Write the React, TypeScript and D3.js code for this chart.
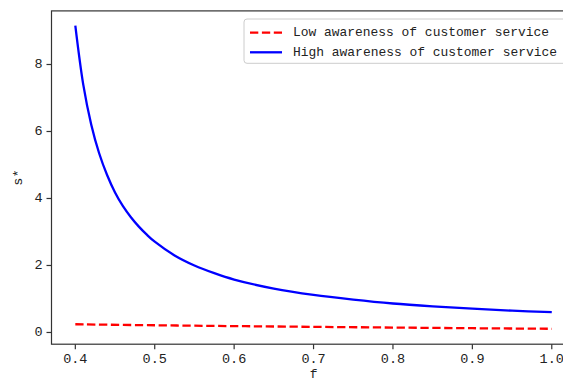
import * as d3 from 'd3';

const fHigh = [0.4, 0.41, 0.42, 0.43, 0.44, 0.45, 0.46, 0.47, 0.48, 0.49, 0.5, 0.525, 0.55, 0.575, 0.6, 0.65, 0.7, 0.75, 0.8, 0.85, 0.9, 0.95, 1.0];
const sHigh = [9.16, 7.4, 6.21, 5.35, 4.7, 4.18, 3.77, 3.44, 3.16, 2.92, 2.71, 2.3, 2.0, 1.77, 1.58, 1.31, 1.12, 0.98, 0.865, 0.78, 0.71, 0.65, 0.605];

const fLow = [0.4, 0.5, 0.6, 0.7, 0.8, 0.9, 1.0];
const sLow = [0.245, 0.215, 0.19, 0.168, 0.147, 0.127, 0.11];

const xTicks = [0.4, 0.5, 0.6, 0.7, 0.8, 0.9, 1.0];
const yTicks = [0, 2, 4, 6, 8];

const seriesLabels = ['Low awareness of customer service', 'High awareness of customer service'];

const W = 563;
const H = 381;
const FONT = '"Liberation Mono", "DejaVu Sans Mono", monospace';

export default function App() {
  const x = d3.scaleLinear().domain([0.37, 1.03]).range([51.5, 575.6]);
  const y = d3.scaleLinear().domain([-0.35, 9.6]).range([344.2, 10.9]);

  const line = d3
    .line<[number, number]>()
    .x((d) => x(d[0]))
    .y((d) => y(d[1]))
    .curve(d3.curveCatmullRom.alpha(0.5));

  const highPts = fHigh.map((f, i) => [f, sHigh[i]] as [number, number]);
  const lowPts = fLow.map((f, i) => [f, sLow[i]] as [number, number]);

  const [x0, x1] = x.range();
  const [y0, y1] = y.range();

  return (
    <svg width={W} height={H} style={{ position: 'absolute', left: 0, top: 0, background: '#fff' }}>
      <rect x={0} y={0} width={W} height={H} fill="#fff" />

      <path d={line(lowPts) ?? ''} fill="none" stroke="#ff0000" strokeWidth={2.3} strokeDasharray="8.3 3.6" />
      <path d={line(highPts) ?? ''} fill="none" stroke="#0000ff" strokeWidth={2.3} />

      {/* spines */}
      <rect x={x0} y={y1} width={x1 - x0} height={y0 - y1} fill="none" stroke="#333" strokeWidth={1.2} />

      {/* x axis */}
      {xTicks.map((t) => (
        <g key={`x${t}`}>
          <line x1={x(t)} x2={x(t)} y1={y0} y2={y0 + 5} stroke="#333" strokeWidth={1.2} />
          <text x={x(t)} y={y0 + 10} textAnchor="middle" dominantBaseline="hanging" fontFamily={FONT} fontSize={13.5} fill="#222">
            {t.toFixed(1)}
          </text>
        </g>
      ))}
      <text x={(x0 + x1) / 2} y={369} textAnchor="middle" dominantBaseline="hanging" fontFamily={FONT} fontSize={13} fill="#222">
        f
      </text>

      {/* y axis */}
      {yTicks.map((t) => (
        <g key={`y${t}`}>
          <line x1={x0 - 5} x2={x0} y1={y(t)} y2={y(t)} stroke="#333" strokeWidth={1.2} />
          <text x={x0 - 9} y={y(t)} textAnchor="end" dominantBaseline="central" fontFamily={FONT} fontSize={13.5} fill="#222">
            {t}
          </text>
        </g>
      ))}
      <text
        transform={`translate(18,${(y0 + y1) / 2}) rotate(-90)`}
        textAnchor="middle"
        dominantBaseline="central"
        fontFamily={FONT}
        fontSize={13.5}
        fill="#222"
      >
        s*
      </text>

      {/* legend */}
      <rect x={244} y={19} width={340} height={44.3} rx={3} fill="#fff" fillOpacity={0.8} stroke="#ccc" strokeWidth={1} />
      {seriesLabels.map((label, i) => {
        const ly = 32.7 + i * 19.6;
        return (
          <g key={label}>
            <line
              x1={250}
              x2={282}
              y1={ly}
              y2={ly}
              stroke={i === 0 ? '#ff0000' : '#0000ff'}
              strokeWidth={2.3}
              strokeDasharray={i === 0 ? '8.3 3.6' : undefined}
            />
            <text
              x={293}
              y={ly}
              dominantBaseline="central"
              fontFamily={FONT}
              fontSize={13}
              fill="#222"
              textLength={i === 0 ? 256 : 264}
              lengthAdjust="spacingAndGlyphs"
            >
              {label}
            </text>
          </g>
        );
      })}
    </svg>
  );
}
